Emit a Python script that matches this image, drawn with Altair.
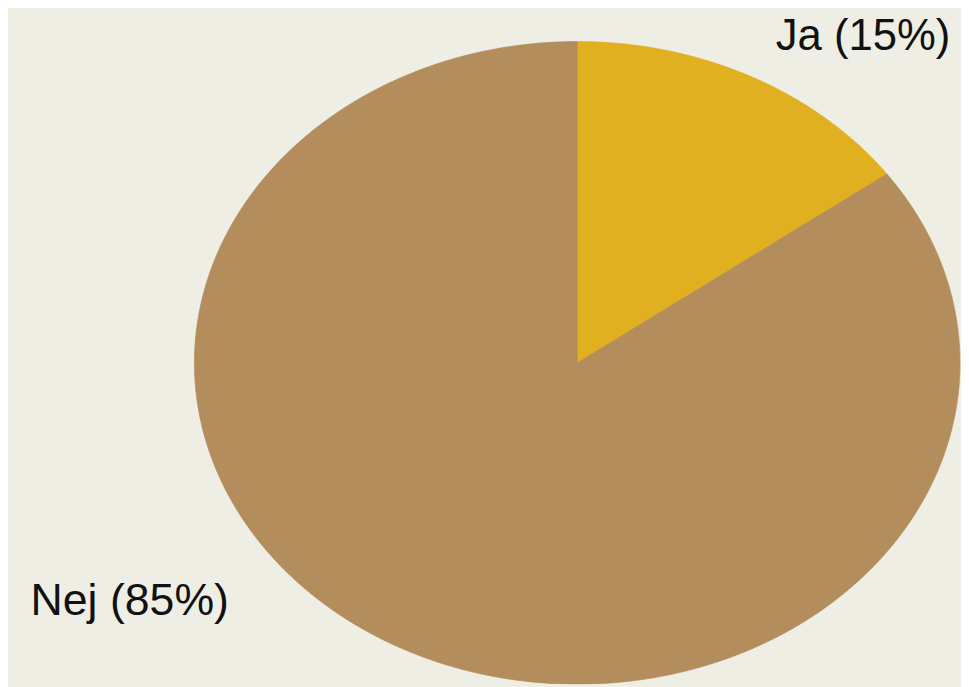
import numpy as np
import pandas as pd
import altair as alt

# ---- data ----
categories = ["Ja", "Nej"]
values = [15, 85]
labels = ["Ja (15%)", "Nej (85%)"]
colors = ["#E1B020", "#B38E5C"]

# ---- build the (elliptical) pie wedges from the values ----
# normalised space: u horizontal, v vertical, unit circle; the x/y scales stretch it
frac_ja = values[0] / sum(values)
th = 2 * np.pi * frac_ja  # end angle of "Ja", clockwise from 12 o'clock

rows = []
# Ja wedge: between the ray at angle th and the ellipse top, 0 <= u <= sin(th)
for u in np.linspace(0, np.sin(th), 240):
    rows.append(("Ja", u, np.sqrt(max(0.0, 1 - u * u)), u / np.tan(th)))
# Nej wedge: everything else
for phi in np.linspace(0, np.pi / 2, 360):          # left half
    u = -np.cos(phi) if phi < np.pi / 2 else -1e-9
    rows.append(("Nej", u, np.sin(phi), -np.sin(phi)))
for u in np.linspace(0, np.sin(th), 240):           # under the Ja wedge
    rows.append(("Nej", u, u / np.tan(th), -np.sqrt(max(0.0, 1 - u * u))))
for psi in np.linspace(th, np.pi / 2, 300)[1:]:     # right part
    rows.append(("Nej", np.sin(psi), np.cos(psi), -np.cos(psi)))
wedges = pd.DataFrame(rows, columns=["category", "u", "top", "bottom"])

# label anchors at the middle angle of each wedge
cum = np.cumsum([0] + values) / sum(values)
mid = [(cum[i] + cum[i + 1]) * np.pi for i in range(len(values))]
lab = pd.DataFrame({
    "category": categories,
    "label": labels,
    "u": [np.sin(m) for m in mid],
    "v": [np.cos(m) for m in mid],
})

W, H = 961, 679
xscale = alt.Scale(domain=[-1.48705, 1.00259], nice=False, zero=False)
yscale = alt.Scale(domain=[-1.0, 1.09568], nice=False, zero=False)
cscale = alt.Scale(domain=categories, range=colors)

pie = alt.Chart(wedges).mark_area(clip=True, strokeWidth=0.8, interpolate="linear").encode(
    x=alt.X("u:Q", scale=xscale, axis=None),
    y=alt.Y("top:Q", scale=yscale, axis=None),
    y2="bottom:Q",
    color=alt.Color("category:N", scale=cscale, legend=None),
    stroke=alt.Stroke("category:N", scale=cscale, legend=None),
    detail="category:N",
)

font = "Liberation Sans"
ja_text = alt.Chart(lab).transform_filter(alt.datum.category == "Ja").mark_text(
    font=font, fontSize=44, color="#111111", align="left", baseline="alphabetic",
    dx=25, dy=-27,
).encode(
    x=alt.X("u:Q", scale=xscale, axis=None),
    y=alt.Y("v:Q", scale=yscale, axis=None),
    text="label:N",
)
nej_text = alt.Chart(lab).transform_filter(alt.datum.category == "Nej").mark_text(
    font=font, fontSize=45, color="#111111", align="right", baseline="alphabetic",
    dx=-176, dy=-34,
).encode(
    x=alt.X("u:Q", scale=xscale, axis=None),
    y=alt.Y("v:Q", scale=yscale, axis=None),
    text="label:N",
)

chart = alt.layer(pie, ja_text, nej_text).properties(
    width=W, height=H,
    padding=0,
    autosize=alt.AutoSizeParams(type="none"),
    background="#EFEEE4",
).configure_view(stroke=None, fill="#EFEEE4")

chart.save("out.html", embed_options={"renderer": "svg", "actions": False})
